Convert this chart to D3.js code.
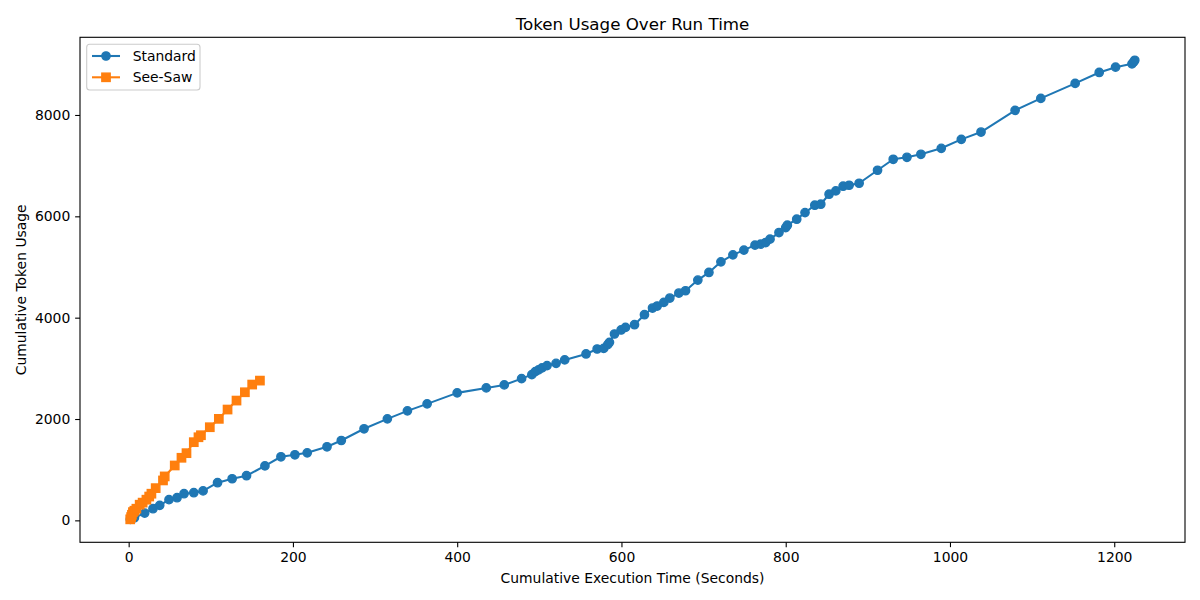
<!DOCTYPE html>
<html>
<head>
<meta charset="utf-8">
<script src="https://cdn.jsdelivr.net/npm/d3@7"></script>
<style>
  body { margin: 0; background: #fff; }
  svg text { font-family: "DejaVu Sans", sans-serif; fill: #000; }
</style>
</head>
<body>
<div id="chart"></div>
<script>
var width = 1200;
var height = 600;

// series
var blueTime = [2, 7, 19.5, 29.6, 37.8, 49.1, 58.9, 67.4, 79.3, 90.6, 108.2, 126, 143.5, 165.9, 185.4, 202.4, 217.4, 241.5, 258.9, 286.6, 315, 339.4, 363.4, 400, 435.4, 457.3, 478.4, 490.9, 495.1, 499.1, 503.3, 509.4, 520.4, 530.9, 556.9, 570.4, 578.4, 583.3, 585.4, 591.5, 599.6, 604.9, 615.9, 628, 637.8, 643.5, 651.6, 658.9, 669.9, 678, 693, 706.5, 721.1, 735.7, 749.1, 762.6, 769.5, 775.6, 780.9, 791.8, 800, 802, 813.4, 823.5, 835.4, 842.7, 852.8, 861, 869.9, 877.2, 889.4, 911.8, 930.9, 947.6, 964.6, 989.4, 1013.8, 1037.8, 1079.3, 1110.6, 1152.4, 1181.7, 1201.6, 1221.6, 1223.5, 1225];
var blueTokens = [20, 50, 144, 230, 296, 408, 447, 526, 546, 581, 743, 821, 881, 1074, 1255, 1294, 1333, 1452, 1576, 1807, 2003, 2161, 2299, 2516, 2614, 2673, 2797, 2876, 2935, 2969, 3008, 3054, 3099, 3166, 3284, 3382, 3394, 3467, 3513, 3678, 3757, 3808, 3861, 4058, 4190, 4230, 4301, 4387, 4486, 4531, 4742, 4892, 5102, 5240, 5333, 5431, 5451, 5483, 5550, 5680, 5778, 5825, 5943, 6074, 6219, 6239, 6436, 6501, 6594, 6613, 6653, 6909, 7126, 7165, 7224, 7342, 7519, 7663, 8091, 8327, 8623, 8839, 8944, 9009, 9042, 9080];

var orangeTime = [1.9, 3, 4, 5.2, 7, 9.4, 13.4, 17, 21.6, 25, 27.7, 32.9, 41.8, 43.9, 56.1, 64.3, 70.4, 79.3, 85, 88, 98.8, 109.8, 120.4, 131.3, 141.5, 150.4, 159.8];
var orangeTokens = [20, 65, 110, 163, 190, 230, 309, 350, 408, 470, 526, 636, 788, 867, 1083, 1235, 1326, 1543, 1640, 1680, 1838, 2003, 2187, 2364, 2528, 2680, 2758];

var seriesNames = ["Standard", "See-Saw"];
var seriesColors = ["#1f77b4", "#ff7f0e"];
var xTicks = [0, 200, 400, 600, 800, 1000, 1200];
var yTicks = [0, 2000, 4000, 6000, 8000];

var series = [
  { name: seriesNames[0], color: seriesColors[0], shape: "circle", pts: blueTime.map(function(t, i) { return [t, blueTokens[i]]; }) },
  { name: seriesNames[1], color: seriesColors[1], shape: "square", pts: orangeTime.map(function(t, i) { return [t, orangeTokens[i]]; }) }
];

var plotLeft = 80, plotRight = 1185, plotTop = 37.3, plotBottom = 542.3;

// matplotlib-like 5% margins
function padded(vals) {
  var e = d3.extent(vals);
  var p = (e[1] - e[0]) * 0.05;
  return [e[0] - p, e[1] + p];
}
var xScale = d3.scaleLinear().domain(padded(blueTime.concat(orangeTime))).range([plotLeft, plotRight]);
var yScale = d3.scaleLinear().domain(padded(blueTokens.concat(orangeTokens))).range([plotBottom, plotTop]);

var svg = d3.select("#chart").append("svg")
  .attr("width", width)
  .attr("height", height);

svg.append("rect").attr("width", width).attr("height", height).attr("fill", "#fff");

var tick = 4.86;
var xAxis = d3.axisBottom(xScale).tickValues(xTicks).tickFormat(d3.format("d")).tickSize(tick).tickSizeOuter(0).tickPadding(4.86);
var yAxis = d3.axisLeft(yScale).tickValues(yTicks).tickFormat(d3.format("d")).tickSize(tick).tickSizeOuter(0).tickPadding(4.86);

var gx = svg.append("g").attr("transform", "translate(0," + plotBottom + ")").call(xAxis);
var gy = svg.append("g").attr("transform", "translate(" + plotLeft + ",0)").call(yAxis);
[gx, gy].forEach(function(g) {
  g.select(".domain").remove();
  g.selectAll(".tick line").attr("stroke", "#000").attr("stroke-width", 1.1);
  g.selectAll(".tick text").attr("font-size", "13.9px").attr("font-family", "DejaVu Sans, sans-serif");
});

var line = d3.line().x(function(d) { return xScale(d[0]); }).y(function(d) { return yScale(d[1]); });

var plot = svg.append("g");
var ms = 8.33;
series.forEach(function(s) {
  plot.append("path")
    .attr("d", line(s.pts))
    .attr("fill", "none")
    .attr("stroke", s.color)
    .attr("stroke-width", 2.08)
    .attr("stroke-linejoin", "round");
  if (s.shape === "circle") {
    plot.selectAll(null).data(s.pts).enter().append("circle")
      .attr("cx", function(d) { return xScale(d[0]); })
      .attr("cy", function(d) { return yScale(d[1]); })
      .attr("r", ms / 2)
      .attr("fill", s.color).attr("stroke", s.color).attr("stroke-width", 1.39);
  } else {
    plot.selectAll(null).data(s.pts).enter().append("rect")
      .attr("x", function(d) { return xScale(d[0]) - ms / 2; })
      .attr("y", function(d) { return yScale(d[1]) - ms / 2; })
      .attr("width", ms).attr("height", ms)
      .attr("fill", s.color).attr("stroke", s.color).attr("stroke-width", 1.39);
  }
});

// frame
svg.append("rect")
  .attr("x", plotLeft).attr("y", plotTop)
  .attr("width", plotRight - plotLeft).attr("height", plotBottom - plotTop)
  .attr("fill", "none").attr("stroke", "#000").attr("stroke-width", 1.1);

// title + labels
svg.append("text").attr("x", (plotLeft + plotRight) / 2).attr("y", 30)
  .attr("text-anchor", "middle").attr("font-size", "16.7px")
  .text("Token Usage Over Run Time");
svg.append("text").attr("x", (plotLeft + plotRight) / 2).attr("y", 583)
  .attr("text-anchor", "middle").attr("font-size", "13.9px")
  .text("Cumulative Execution Time (Seconds)");
svg.append("text")
  .attr("transform", "translate(26," + (plotTop + plotBottom) / 2 + ") rotate(-90)")
  .attr("text-anchor", "middle").attr("font-size", "13.9px")
  .text("Cumulative Token Usage");

// legend
var lg = svg.append("g");
lg.append("rect").attr("x", 86.7).attr("y", 44.3).attr("width", 113.3).attr("height", 45.7)
  .attr("rx", 3).attr("fill", "#fff").attr("fill-opacity", 0.8)
  .attr("stroke", "#ccc").attr("stroke-width", 1.1);
series.forEach(function(s, i) {
  var y = 56 + i * 21.3;
  lg.append("line").attr("x1", 92).attr("x2", 120).attr("y1", y).attr("y2", y)
    .attr("stroke", s.color).attr("stroke-width", 2.08);
  if (s.shape === "circle") {
    lg.append("circle").attr("cx", 106).attr("cy", y).attr("r", ms / 2)
      .attr("fill", s.color).attr("stroke", s.color).attr("stroke-width", 1.39);
  } else {
    lg.append("rect").attr("x", 106 - ms / 2).attr("y", y - ms / 2).attr("width", ms).attr("height", ms)
      .attr("fill", s.color).attr("stroke", s.color).attr("stroke-width", 1.39);
  }
  lg.append("text").attr("x", 132.7).attr("y", y + 5).attr("font-size", "13.9px").text(s.name);
});
</script>
</body>
</html>
